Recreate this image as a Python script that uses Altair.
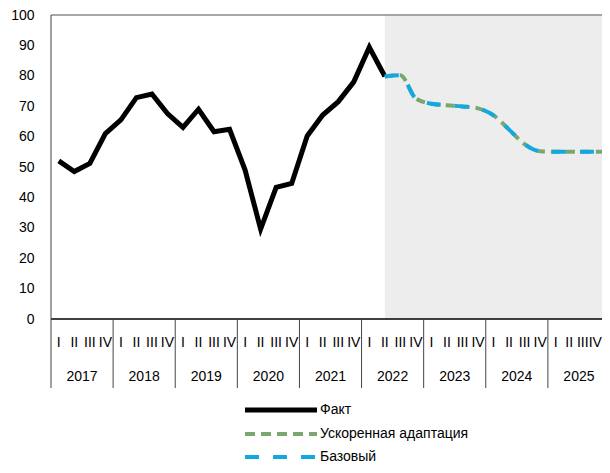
import altair as alt
import pandas as pd

# ---- data ----
years = [2017, 2018, 2019, 2020, 2021, 2022, 2023, 2024, 2025]
quarter_labels = ["I", "II", "III", "IV"]
series_names = ["Факт", "Ускоренная адаптация", "Базовый"]

# quarterly values, 2017 Q1 .. 2022 Q2
fact = [52, 48.5, 51.2, 61, 65.5, 72.8, 74, 67.6, 63, 69, 61.6, 62.4,
        49, 29.6, 43.3, 44.6, 60.2, 67.1, 71.5, 78, 89.4, 79.8]
# forecasts, 2022 Q2 .. 2025 Q4
accelerated = [79.8, 80.2, 72.5, 70.8, 70.3, 69.9, 69.3, 67, 62.3, 57.5,
               55.2, 55, 55, 55, 55]
base = [79.8, 80.2, 72.5, 70.8, 70.3, 69.9, 69.3, 67, 62.3, 57.5,
        55.2, 55, 55, 55, 55]
y_ticks = [0, 10, 20, 30, 40, 50, 60, 70, 80, 90, 100]

n_q = len(years) * 4
fc_start = len(fact) - 1  # forecast starts at the last fact quarter

FONT = "Liberation Sans"
W, H = 559, 304
VIS_W = 551  # visible part of the plot width inside the page

df_fact = pd.DataFrame({"t": [i + 0.5 for i in range(len(fact))], "v": fact})
df_acc = pd.DataFrame({"t": [fc_start + i + 0.5 for i in range(len(accelerated))], "v": accelerated})
df_base = pd.DataFrame({"t": [fc_start + i + 0.5 for i in range(len(base))], "v": base})
n_first = n_q - 4
df_q = pd.DataFrame({"t": [k + 0.5 for k in range(n_first)],
                     "lab": [quarter_labels[k % 4] for k in range(n_first)]})
df_y = pd.DataFrame({"t": [4 * i + 2 for i in range(len(years))],
                     "lab": [str(y) for y in years]})
df_sep = pd.DataFrame({"t": [4 * i for i in range(1, len(years))]})
df_shade = pd.DataFrame({"t": [fc_start + 0.5], "t2": [n_q], "y0": [0], "y1": [100]})

xs = alt.Scale(domain=[0, n_q], nice=False, zero=False)
ys = alt.Scale(domain=[0, 100], nice=False)
yaxis = alt.Axis(values=y_ticks, title=None, domain=False, ticks=False, grid=False,
                 labelFont=FONT, labelFontSize=14, labelColor="#000", labelPadding=17,
                 labelOverlap=False, labelFlush=False, tickCount=11)

X = lambda f="t": alt.X(f"{f}:Q", scale=xs, axis=None)
Y = lambda f: alt.Y(f"{f}:Q", scale=ys, axis=yaxis)

shade = alt.Chart(df_shade).mark_rect(color="#EDEDED").encode(
    x=X(), x2="t2:Q", y=Y("y0"), y2="y1:Q")

top_border = alt.Chart(df_shade).mark_rule(color="#8A8A8A", strokeWidth=1.5).encode(
    x=alt.value(0), x2=alt.value(W), y=alt.value(0))
left_border = alt.Chart(df_shade).mark_rule(color="#444444", strokeWidth=1).encode(
    x=alt.value(0), y=alt.value(0), y2=alt.value(373))
bottom_axis = alt.Chart(df_shade).mark_rule(color="#000000", strokeWidth=1.5).encode(
    x=alt.value(0), x2=alt.value(W), y=alt.value(H))

seps = alt.Chart(df_sep).mark_rule(color="#444444", strokeWidth=1).encode(
    x=X(), y=alt.value(H), y2=alt.value(373))

qlabels = alt.Chart(df_q).mark_text(font=FONT, fontSize=14, color="#000",
                                    baseline="middle", align="center").encode(
    x=X(), y=alt.value(328), text="lab:N")
# last year's quarter labels are squeezed a little so they stay inside the page
last_dx = [0, -2, -4, -7]
last_layers = []
for j in range(4):
    dfj = pd.DataFrame({"t": [n_first + j + 0.5], "lab": [quarter_labels[j]]})
    last_layers.append(alt.Chart(dfj).mark_text(
        font=FONT, fontSize=14, color="#000", baseline="middle", align="center",
        dx=last_dx[j]).encode(x=X(), y=alt.value(328), text="lab:N"))
ylabels = alt.Chart(df_y).mark_text(font=FONT, fontSize=14, color="#000",
                                    baseline="middle", align="center").encode(
    x=X(), y=alt.value(362), text="lab:N")

line_fact = alt.Chart(df_fact).mark_line(color="#000000", strokeWidth=5).encode(
    x=X(), y=Y("v"))
line_acc = alt.Chart(df_acc).mark_line(color="#78A86E", strokeWidth=4, strokeDash=[9, 6],
                                       interpolate="monotone").encode(
    x=X(), y=Y("v"))
line_base = alt.Chart(df_base).mark_line(color="#12A9E1", strokeWidth=4, strokeDash=[14, 14],
                                         interpolate="monotone").encode(
    x=X(), y=Y("v"))

# legend
leg_styles = [
    dict(color="#000000", strokeWidth=5),
    dict(color="#78A86E", strokeWidth=4, strokeDash=[10, 6]),
    dict(color="#12A9E1", strokeWidth=4, strokeDash=[14, 14]),
]
leg_rows = [395, 419, 442]
leg_layers = []
for i, name in enumerate(series_names):
    yy = leg_rows[i]
    leg_layers.append(alt.Chart(df_shade).mark_rule(**leg_styles[i]).encode(
        x=alt.value(194), x2=alt.value(266), y=alt.value(yy)))
    leg_layers.append(alt.Chart(df_shade).mark_text(
        font=FONT, fontSize=14, color="#000", align="left", baseline="middle").encode(
        x=alt.value(269), y=alt.value(yy), text=alt.value(name)))

chart = alt.layer(
    shade, top_border, bottom_axis, seps, left_border, qlabels, *last_layers, ylabels,
    line_fact, line_acc, line_base, *leg_layers
).properties(
    width=W, height=H,
    padding={"left": 43, "top": 7, "right": VIS_W - W, "bottom": 144},
    autosize=alt.AutoSizeParams(type="none"),
).configure_view(stroke="transparent")

chart.save("out.html", embed_options={"renderer": "svg", "actions": False})
